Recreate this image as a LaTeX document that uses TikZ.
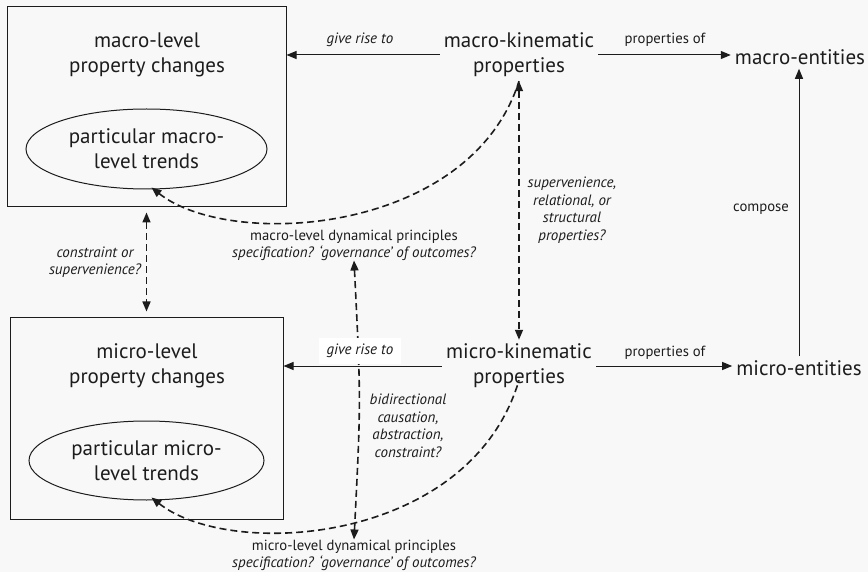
\documentclass[tikz,border=0pt]{standalone}
\usepackage{fontspec}
\setmainfont{PT Sans}
\usetikzlibrary{arrows.meta,shapes.geometric}
\definecolor{bg}{RGB}{248,248,248}
\definecolor{ink}{RGB}{28,28,28}
\tikzset{
  >={Triangle[length=10pt,width=8pt]},
  big/.style={font=\fontsize{21}{25}\selectfont, align=center, inner sep=4pt, text=ink},
  lab/.style={font=\fontsize{15}{17.5}\selectfont\itshape, align=center, text=ink, inner sep=2pt},
  labr/.style={font=\fontsize{14.7}{17}\selectfont, align=center, text=ink, inner sep=2pt},
  arr/.style={draw=ink, line width=1pt, ->},
  dashline/.style={draw=ink, line width=1.6pt, dash pattern=on 7pt off 4pt},
  framebox/.style={draw=ink, line width=1pt, inner sep=0pt},
  oval/.style={draw=ink, line width=1pt, ellipse, inner sep=0pt, font=\fontsize{21}{25}\selectfont, align=center, text=ink}
}
\begin{document}
\begin{tikzpicture}[x=1pt,y=-1pt]
\fill[bg] (0,0) rectangle (868,572);
\useasboundingbox (0,0) rectangle (868,572);

% macro box
\node[framebox, minimum width=279pt, minimum height=200pt] (Mbox) at (146.5,107) {};
\node[big] (Mtxt) at (147,55) {macro-level\\property changes};
\node[oval, minimum width=241pt, minimum height=80pt] (Mell) at (146.5,149) {particular macro-\\level trends};

% micro box
\node[framebox, minimum width=273pt, minimum height=202pt] (mbox) at (146.5,418) {};
\node[big] (mtxt) at (147,366) {micro-level\\property changes};
\node[oval, minimum width=235pt, minimum height=79pt] (mell) at (146.5,460.5) {particular micro-\\level trends};

% kinematic nodes
\node[big] (MK) at (519,55) {macro-kinematic\\properties};
\node[big] (mK) at (519,366) {micro-kinematic\\properties};
\node[big] (ME) at (800,57) {macro-entities};
\node[big] (mE) at (799,368) {micro-entities};

% solid arrows
\draw[arr] (MK.west) -- (MK.west -| Mbox.east);
\node[lab] (grMa) at (360,40) {give rise to};
\draw[arr] (MK.east) -- (MK.east -| ME.west);
\node[labr] (poMa) at (665,40) {properties of};
\draw[arr] (mK.east) -- (mK.east -| mE.west);
\node[labr] (pomi) at (665,353) {properties of};
\draw[arr] (mE.north) -- (mE.north |- ME.south);
\node[labr] (comp) at (761,209) {compose};

% dynamical principle labels
\node[labr] (MDP) at (354,245) {macro-level dynamical principles\\\fontsize{15}{17}\selectfont\itshape specification? ‘governance’ of outcomes?};
\node[labr] (mDP) at (354,555) {micro-level dynamical principles\\\fontsize{15}{17}\selectfont\itshape specification? ‘governance’ of outcomes?};

% dashed connectors
\draw[dashline, <->] (MK.south) -- (mK.north);
\node[lab] (svn) at (572,210) {supervenience,\\relational, or\\structural\\properties?};
\draw[dashline, <->, shorten <=5pt, shorten >=5pt] (Mbox.south) -- (mbox.north);
\node[lab] (cos) at (95,262) {constraint or\\supervenience?};
\draw[dashline, <-] ([xshift=5pt,yshift=2pt]Mell.south) .. controls (230,250) and (470,235) .. (MK.south);
\draw[dashline, <->] ([yshift=2pt]MDP.south) .. controls (361,400) .. ([yshift=-2pt]mDP.north);
\draw[dashline, <-] ([xshift=5pt,yshift=3pt]mell.south) .. controls (230,560) and (470,545) .. ([yshift=12pt]mK.south);
\node[lab] (bid) at (408,426) {bidirectional\\causation,\\abstraction,\\constraint?};

% micro give rise to
\draw[arr] (mK.west) -- (mK.west -| mbox.east);
\node[lab, fill=white, inner xsep=8pt, inner ysep=6pt] (grmi) at (360,351) {give rise to};
\end{tikzpicture}
\end{document}
